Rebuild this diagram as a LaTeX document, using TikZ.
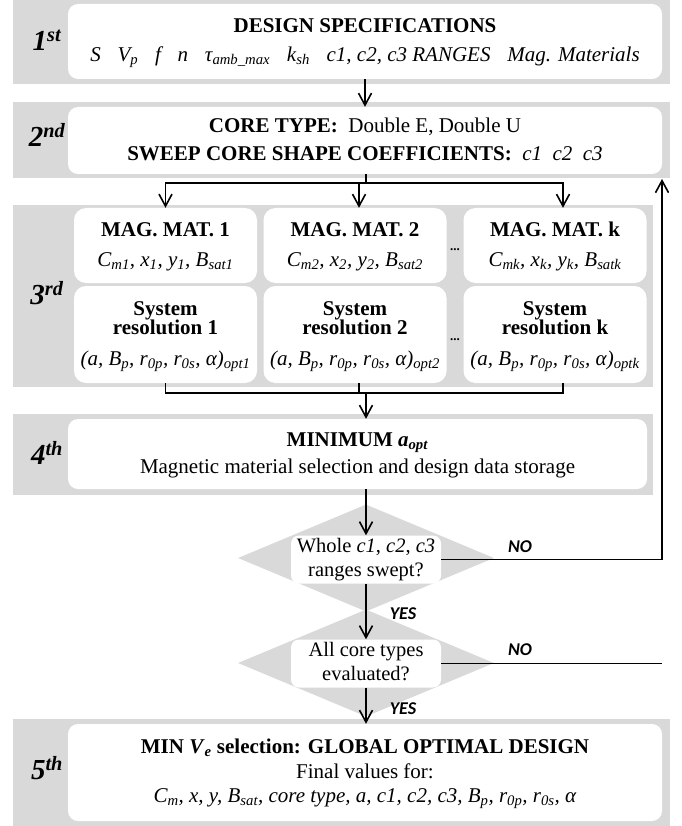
\documentclass[tikz,border=0pt]{standalone}
\usepackage{fontspec}
\setmainfont{Liberation Serif}
\newfontfamily\answerfont{Carlito}
\usepackage{tikz}
\usetikzlibrary{shapes, arrows.meta, positioning}
\definecolor{bandgray}{HTML}{D9D9D9}
\tikzstyle{band} = [fill = bandgray]
\tikzstyle{block} = [rectangle, fill = white, rounded corners = 10pt, align = center, inner sep = 0pt, font = \fontsize{21}{28}\selectfont]
\tikzstyle{wide} = [block, minimum width = 594pt]
\tikzstyle{column} = [block, rounded corners = 12pt, minimum width = 183pt]
\tikzstyle{decision} = [diamond, fill = bandgray, inner sep = 0pt, minimum width = 256pt, minimum height = 107pt]
\tikzstyle{question} = [rectangle, fill = white, rounded corners = 8pt, align = center, inner sep = 0pt, minimum width = 150pt, minimum height = 44pt, font = \fontsize{20.5}{24}\selectfont]
\tikzstyle{stage} = [font = \fontsize{29}{30}\selectfont\bfseries\itshape]
\tikzstyle{answer} = [font = \answerfont\fontsize{18}{18}\selectfont\bfseries\itshape]
\tikzstyle{dots} = [font = \fontsize{13}{13}\selectfont\bfseries]
\tikzstyle{line} = [draw, line width = 1.6pt]
\tikzstyle{line2} = [draw, line width = 1.6pt, -{Straight Barb[length = 12pt, width = 13pt]}]

\begin{document}
\begin{tikzpicture}[x = 1pt, y = -1pt, auto]
			\useasboundingbox (0, 0) rectangle (681, 826);
			% Grey bands
			\fill [band] (13, 0) rectangle (670, 84);
			\fill [band] (13, 102) rectangle (670, 178);
			\fill [band] (13, 205) rectangle (653, 387);
			\fill [band] (13, 414) rectangle (653, 495);
			\fill [band] (13, 719) rectangle (670, 826);
			
			% Stage labels
			\node [stage] (s1) at (47, 40) {1\textsuperscript{st}};
			\node [stage] (s2) at (47, 135) {2\textsuperscript{nd}};
			\node [stage] (s3) at (47, 293) {3\textsuperscript{rd}};
			\node [stage] (s4) at (47, 453) {4\textsuperscript{th}};
			\node [stage] (s5) at (47, 768) {5\textsuperscript{th}};
			
			% Place nodes
			\node [wide, minimum height = 75pt] (spec) at (365, 41.5) {\strut\textbf{DESIGN SPECIFICATIONS}\\[1pt] \textit{S\hspace{0.8em}V\textsubscript{p}\hspace{0.8em}f\hspace{0.8em}n\hspace{0.8em}τ\textsubscript{amb\_max}\hspace{0.8em}k\textsubscript{sh}\hspace{0.8em}c1, c2, c3 RANGES\hspace{0.8em}Mag. Materials}\strut};
			\node [wide, minimum height = 67pt] (core) at (365, 140.5) {\strut\textbf{CORE TYPE:}\ \ Double E, Double U\\ \textbf{SWEEP CORE SHAPE COEFFICIENTS:}\ \ \textit{c1\ \ c2\ \ c3}\strut};
			
			\node [column, minimum height = 75pt] (mag1) at (165.5, 245.5) {\strut\textbf{MAG. MAT. 1}\\[2pt] \textit{C\textsubscript{m1}, x\textsubscript{1}, y\textsubscript{1}, B\textsubscript{sat1}}\strut};
			\node [column, minimum height = 75pt] (mag2) at (355, 245.5) {\strut\textbf{MAG. MAT. 2}\\[2pt] \textit{C\textsubscript{m2}, x\textsubscript{2}, y\textsubscript{2}, B\textsubscript{sat2}}\strut};
			\node [column, minimum height = 75pt] (mag3) at (555, 245.5) {\strut\textbf{MAG. MAT. k}\\[2pt] \textit{C\textsubscript{mk}, x\textsubscript{k}, y\textsubscript{k}, B\textsubscript{satk}}\strut};
			\node [column, minimum height = 97pt] (sys1) at (165.5, 334.5) {\strut\textbf{System}\\[-9pt] \textbf{resolution 1}\\[3pt] \textit{(a, B\textsubscript{p}, r\textsubscript{0p}, r\textsubscript{0s}, α)\textsubscript{opt1}}\strut};
			\node [column, minimum height = 97pt] (sys2) at (355, 334.5) {\strut\textbf{System}\\[-9pt] \textbf{resolution 2}\\[3pt] \textit{(a, B\textsubscript{p}, r\textsubscript{0p}, r\textsubscript{0s}, α)\textsubscript{opt2}}\strut};
			\node [column, minimum height = 97pt] (sys3) at (555, 334.5) {\strut\textbf{System}\\[-9pt] \textbf{resolution k}\\[3pt] \textit{(a, B\textsubscript{p}, r\textsubscript{0p}, r\textsubscript{0s}, α)\textsubscript{optk}}\strut};
			\node [dots] (dots1) at (455, 250) {...};
			\node [dots] (dots2) at (455, 340) {...};
			
			\node [block, minimum width = 579pt, minimum height = 70pt] (minimum) at (357.5, 454) {\strut\textbf{MINIMUM \textit{a}\textsubscript{\textit{opt}}}\\[-1pt] Magnetic material selection and design data storage\strut};
			
			\node [decision] (sweptbg) at (366, 558) {};
			\node [question] (swept) at (366, 559.5) {\strut Whole \textit{c1}, \textit{c2}, \textit{c3}\\ ranges swept?\strut};
			\node [decision] (typesbg) at (366, 663) {};
			\node [question, minimum height = 45pt] (types) at (366, 663.5) {\strut All core types\\ evaluated?\strut};
			
			\node [wide, minimum height = 97pt] (optimal) at (365, 772.5) {\strut\textbf{MIN \textit{V}\textsubscript{\textit{e}} selection: GLOBAL OPTIMAL DESIGN}\\[-3pt] Final values for:\\[-4pt] \textit{C\textsubscript{m}, x, y, B\textsubscript{sat}, core type, a, c1, c2, c3, B\textsubscript{p}, r\textsubscript{0p}, r\textsubscript{0s}, α}\strut};
			
			\node [answer] (no1) at (520, 547) {NO};
			\node [answer] (no2) at (520, 650) {NO};
			\node [answer] (yes1) at (403, 614) {YES};
			\node [answer] (yes2) at (403, 709) {YES};
			
			\coordinate (split) at (366, 183);
			\coordinate (merge) at (366, 393);
			\coordinate (back) at (662, 179);
			
			% Draw edges
			\path [line2] (spec) -- (core);
			\path [line] (core.south -| split) -- (split);
			\path [line2] (split) -| (mag1.north);
			\path [line2] (split) -| ([xshift = 4pt] mag2.north);
			\path [line2] (split) -| ([xshift = 8pt] mag3.north);
			\path [line] (sys1.south) |- (merge);
			\path [line] ([xshift = 4pt] sys2.south) |- (merge);
			\path [line] ([xshift = 8pt] sys3.south) |- (merge);
			\path [line2] (merge) -- (merge |- minimum.north);
			\path [line2] (minimum.south -| swept) -- (swept.north);
			\path [line2] (swept) -- (types);
			\path [line2] (types.south) -- (types.south |- optimal.north);
			\path [line2] (swept.east) -| (back);
			\path [line] (types.east) -- (types.east -| back);
		\end{tikzpicture}
\end{document}
